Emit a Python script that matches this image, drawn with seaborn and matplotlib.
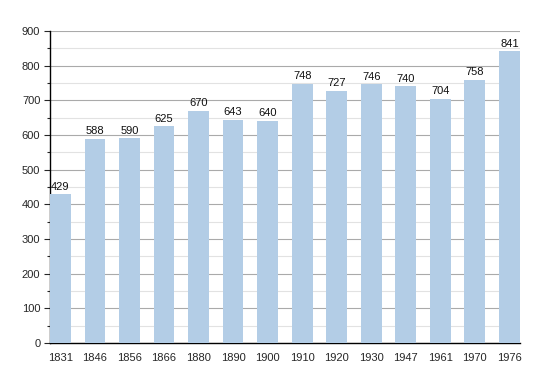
import matplotlib
matplotlib.use("Agg")
import matplotlib.pyplot as plt
import pandas as pd
import seaborn as sns
from matplotlib.ticker import MultipleLocator

years = ["1831", "1846", "1856", "1866", "1880", "1890", "1900",
         "1910", "1920", "1930", "1947", "1961", "1970", "1976"]
population = [429, 588, 590, 625, 670, 643, 640,
              748, 727, 746, 740, 704, 758, 841]

df = pd.DataFrame({"year": years, "population": population})

sns.set_theme(style="white")
plt.rcParams["font.family"] = ["Liberation Sans", "DejaVu Sans"]

fig = plt.figure(figsize=(5.5, 3.73), dpi=100)
ax = fig.add_axes([0.091, 0.080, 0.854, 0.837])

sns.barplot(data=df, x="year", y="population", color="#b3cde6",
            saturation=1, width=0.6, linewidth=0, ax=ax, zorder=3)

for i, v in enumerate(population):
    ax.text(i, v + 8, str(v), ha="center", va="bottom", fontsize=8, color="#111111", zorder=4)

ax.set_xlim(-0.3, 13.3)
ax.set_ylim(0, 900)
ax.yaxis.set_major_locator(MultipleLocator(100))
ax.yaxis.set_minor_locator(MultipleLocator(50))
ax.grid(axis="y", which="major", color="#aaaaaa", linewidth=0.8, zorder=0)
ax.grid(axis="y", which="minor", color="#e2e2e2", linewidth=0.8, zorder=0)
ax.set_axisbelow(True)

for side in ["top", "right"]:
    ax.spines[side].set_visible(False)
ax.spines["left"].set_color("black")
ax.spines["bottom"].set_color("black")
ax.spines["left"].set_linewidth(1.0)
ax.spines["bottom"].set_linewidth(1.0)

ax.tick_params(axis="y", which="major", left=True, length=4, width=0.8, labelsize=8, pad=3)
ax.tick_params(axis="y", which="minor", left=True, length=2, width=0.8)
ax.tick_params(axis="x", bottom=False, labelsize=8, pad=1)
ax.set_xlabel("")
ax.set_ylabel("")

fig.savefig("out.png", dpi=100)
